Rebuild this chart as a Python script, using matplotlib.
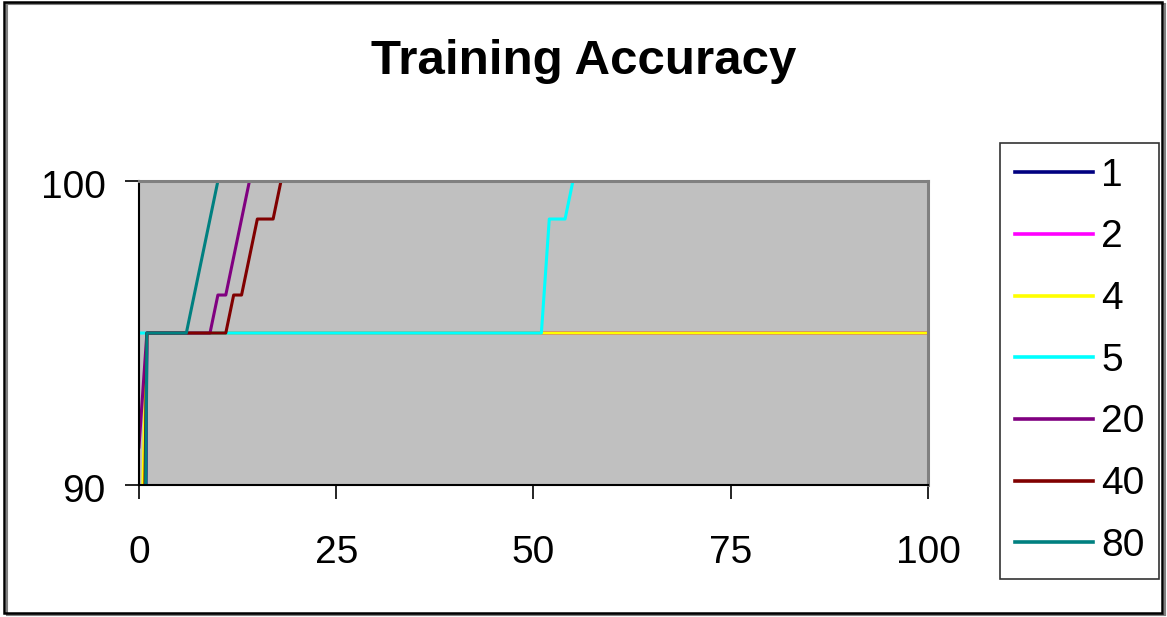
import matplotlib
matplotlib.use("Agg")
import matplotlib.pyplot as plt
import matplotlib.transforms as mtransforms
from matplotlib.patches import Rectangle

plt.rcParams['font.family'] = ['Liberation Sans', 'DejaVu Sans']

# training accuracy (%) per epoch for each run; points listed where the curve changes
runs = ['1', '2', '4', '5', '20', '40', '80']
epochs_1 = [0, 1, 100]
acc_1 = [50.0, 95.0, 95.0]
epochs_2 = [0, 1, 100]
acc_2 = [70.0, 95.0, 95.0]
epochs_4 = [0, 1, 100]
acc_4 = [85.0, 95.0, 95.0]
epochs_5 = [0, 51, 52, 53, 54, 55, 100]
acc_5 = [95.0, 95.0, 98.75, 98.75, 98.75, 100.0, 100.0]
epochs_20 = [0, 1, 9, 10, 11, 12, 13, 14, 100]
acc_20 = [91.25, 95.0, 95.0, 96.25, 96.25, 97.5, 98.75, 100.0, 100.0]
epochs_40 = [0, 1, 11, 12, 13, 14, 15, 16, 17, 18, 100]
acc_40 = [75.0, 95.0, 95.0, 96.25, 96.25, 97.5, 98.75, 98.75, 98.75, 100.0, 100.0]
epochs_80 = [0, 1, 6, 7, 8, 9, 10, 100]
acc_80 = [62.5, 95.0, 95.0, 96.25, 97.5, 98.75, 100.0, 100.0]

colors = ['#000080', '#FF00FF', '#FFFF00', '#00FFFF', '#800080', '#800000', '#008080']
series = [(epochs_1, acc_1), (epochs_2, acc_2), (epochs_4, acc_4), (epochs_5, acc_5),
          (epochs_20, acc_20), (epochs_40, acc_40), (epochs_80, acc_80)]

fig = plt.figure(figsize=(11.67, 6.17), dpi=100)
ax = fig.add_axes([0.1191, 0.2139, 0.6761, 0.4927])
ax.set_facecolor('#C0C0C0')

for (x, y), c, name in zip(series, colors, runs):
    ax.plot(x, y, color=c, lw=2.2, label=name)

ax.set_xlim(0, 100)
ax.set_ylim(90, 100)
ax.set_xticks([0, 25, 50, 75, 100])
ax.set_yticks([90, 100])
ax.tick_params(direction='out', length=10, width=1.2, labelsize=28, color='black')
ax.tick_params(axis='y', pad=14)
ax.tick_params(axis='x', pad=26)

# nudge the y labels a few pixels down
shift = mtransforms.ScaledTranslation(0, -3 / 100, fig.dpi_scale_trans)
for lab in ax.get_yticklabels():
    lab.set_transform(lab.get_transform() + shift)

for side in ['left', 'bottom']:
    ax.spines[side].set_color('black')
    ax.spines[side].set_linewidth(1.5)
for side in ['top', 'right']:
    ax.spines[side].set_color('#808080')
    ax.spines[side].set_linewidth(2.2)

fig.text(0.5, 0.880, 'Training Accuracy', ha='center', va='baseline',
         fontsize=35.5, fontweight='bold')

leg = fig.legend(loc='upper left', bbox_to_anchor=(1000 / 1167, 1 - 143 / 617),
                 fontsize=28, frameon=True, fancybox=False, handlelength=2.0,
                 handletextpad=0.22, labelspacing=0.66, borderpad=0.38,
                 borderaxespad=0)
leg.get_frame().set_edgecolor('black')
leg.get_frame().set_linewidth(1.2)
for line in leg.get_lines():
    line.set_linewidth(2.6)

# chart border with a light shadow on the lower right
fig.patches.append(Rectangle((7 / 1167, 2 / 617), 1158 / 1167, 611 / 617,
                             transform=fig.transFigure, fill=False,
                             edgecolor='#808080', lw=1.5))
fig.patches.append(Rectangle((4 / 1167, 4 / 617), 1158 / 1167, 611 / 617,
                             transform=fig.transFigure, fill=False,
                             edgecolor='black', lw=1.8))

fig.savefig('out.png', dpi=100)
